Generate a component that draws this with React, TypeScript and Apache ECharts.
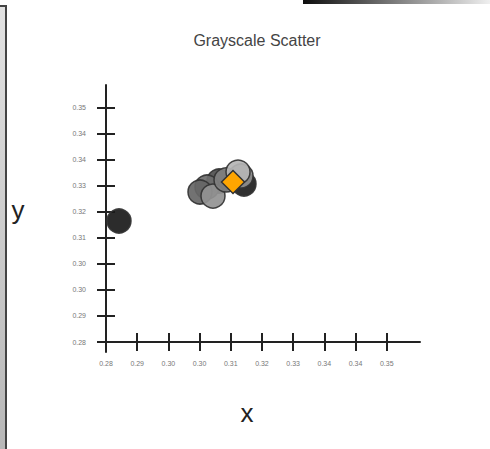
import React, { useEffect, useRef } from 'react';
import * as echarts from 'echarts';

const TITLE = 'Grayscale Scatter';
const X_NAME = 'x';
const Y_NAME = 'y';

const TICK_START = 0.28;
const TICK_STEP = 0.07 / 9;
const xTickLabels = ['0.28', '0.29', '0.30', '0.30', '0.31', '0.32', '0.33', '0.34', '0.34', '0.35'];
const yTickLabels = ['0.28', '0.29', '0.30', '0.30', '0.31', '0.32', '0.33', '0.34', '0.34', '0.35'];
const xTicks = xTickLabels.map((_, i) => TICK_START + i * TICK_STEP);
const yTicks = yTickLabels.map((_, i) => TICK_START + i * TICK_STEP);

// circles: x, y, gray fill (draw order)
const circleX = [0.28324, 0.30818, 0.30519, 0.30344, 0.30668, 0.30993, 0.31441, 0.31367, 0.31292];
const circleY = [0.31609, 0.32802, 0.32623, 0.32474, 0.32354, 0.32832, 0.32712, 0.32951, 0.33070];
const circleFill = ['#1a1a1a', '#4f4f4f', '#6e6e6e', '#666666', '#939393', '#808080', '#1e1e1e', '#909090', '#b5b5b5'];

const diamondX = [0.31167];
const diamondY = [0.32772];

export default function App() {
  const ref = useRef<HTMLDivElement>(null);
  useEffect(() => {
    if (!ref.current) return;
    const chart = echarts.init(ref.current, null, { renderer: 'svg' });
    const fmt = (labels: string[]) => (v: number) => {
      const i = Math.round((v - TICK_START) / TICK_STEP);
      return labels[i] ?? '';
    };
    const xMin = 0.278005, xMax = 0.3583;
    const yMin = 0.27702, yMax = 0.35665;
    const lineCol = '#222';
    const labelFont = 'Liberation Sans, Arial, sans-serif';
    chart.setOption({
      animation: false,
      grid: { left: 98, top: 85, width: 322, height: 267, containLabel: false },
      xAxis: [
        {
          type: 'value', min: xMin, max: xMax, position: 'bottom', offset: -10,
          axisLine: { show: true, onZero: false, lineStyle: { color: lineCol, width: 2 } },
          axisTick: { show: true, customValues: xTicks, length: 9, lineStyle: { color: lineCol, width: 2 } },
          axisLabel: { show: true, customValues: xTicks, formatter: fmt(xTickLabels), fontSize: 7, color: '#777', margin: 18, fontFamily: labelFont },
          splitLine: { show: false },
        },
        {
          type: 'value', min: xMin, max: xMax, position: 'top', offset: -257,
          axisLine: { show: false, onZero: false },
          axisTick: { show: true, customValues: xTicks, length: 9, lineStyle: { color: lineCol, width: 2 } },
          axisLabel: { show: false },
          splitLine: { show: false },
        },
      ],
      yAxis: [
        {
          type: 'value', min: yMin, max: yMax, position: 'left', offset: -8,
          axisLine: { show: true, onZero: false, lineStyle: { color: lineCol, width: 2 } },
          axisTick: { show: true, customValues: yTicks, length: 9, lineStyle: { color: lineCol, width: 2 } },
          axisLabel: { show: true, customValues: yTicks, formatter: fmt(yTickLabels), fontSize: 7, color: '#777', margin: 20, fontFamily: labelFont },
          splitLine: { show: false },
        },
        {
          type: 'value', min: yMin, max: yMax, position: 'right', offset: -314,
          axisLine: { show: false, onZero: false },
          axisTick: { show: true, customValues: yTicks, length: 9, lineStyle: { color: lineCol, width: 2 } },
          axisLabel: { show: false },
          splitLine: { show: false },
        },
      ],
      series: [
        {
          type: 'scatter', xAxisIndex: 0, yAxisIndex: 0, symbol: 'circle', symbolSize: 24,
          data: circleX.map((x, i) => ({
            value: [x, circleY[i]],
            itemStyle: { color: circleFill[i], borderColor: '#333', borderWidth: 1.5, opacity: 0.92 },
          })),
        },
        {
          type: 'scatter', xAxisIndex: 0, yAxisIndex: 0, symbol: 'diamond', symbolSize: 23,
          data: diamondX.map((x, i) => [x, diamondY[i]]),
          itemStyle: { color: '#FFA500', borderColor: '#333', borderWidth: 1.5, opacity: 1 },
        },
      ],
      graphic: [
        {
          type: 'rect', shape: { x: -10, y: 6, width: 16, height: 460 },
          style: {
            fill: new echarts.graphic.LinearGradient(0, 0, 0, 1, [
              { offset: 0, color: '#e2e2e2' },
              { offset: 1, color: '#b6b6b6' },
            ]),
            stroke: '#444', lineWidth: 2,
          },
        },
        {
          type: 'rect', shape: { x: 303, y: -5, width: 200, height: 9 },
          style: {
            fill: new echarts.graphic.LinearGradient(0, 0, 1, 0, [
              { offset: 0, color: '#0d0d0d' },
              { offset: 1, color: '#ffffff' },
            ]),
          },
        },
        {
          type: 'text', x: 257, y: 40,
          style: { text: TITLE, fontSize: 16, fill: '#444', align: 'center', verticalAlign: 'middle', fontFamily: labelFont },
        },
        {
          type: 'text', x: 247, y: 413,
          style: { text: X_NAME, fontSize: 26, fill: '#222', align: 'center', verticalAlign: 'middle', fontFamily: labelFont },
        },
        {
          type: 'text', x: 18, y: 210,
          style: { text: Y_NAME, fontSize: 26, fill: '#222', align: 'center', verticalAlign: 'middle', fontFamily: labelFont },
        },
      ],
    });
    return () => chart.dispose();
  }, []);
  return <div ref={ref} style={{ position: 'absolute', left: 0, top: 0, width: 490, height: 449 }} />;
}
